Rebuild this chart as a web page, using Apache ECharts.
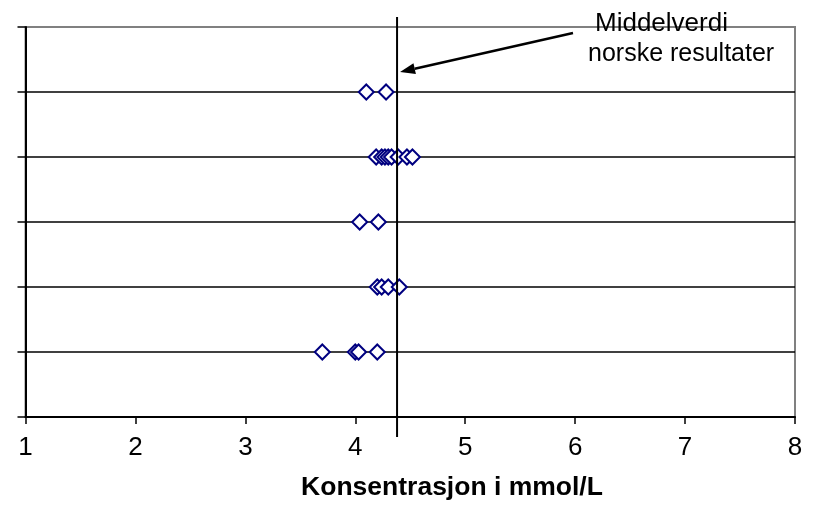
<!DOCTYPE html>
<html>
<head>
<meta charset="utf-8">
<script src="https://cdn.jsdelivr.net/npm/echarts@6/dist/echarts.min.js"></script>
<style>html,body{margin:0;padding:0;background:#fff}#c{width:813px;height:505px}</style>
</head>
<body>
<div id="c"></div>
<script>
// Data
const xTicks = [1, 2, 3, 4, 5, 6, 7, 8];
const row1 = [3.70, 4.00, 4.03, 4.20];
const row2 = [4.20, 4.24, 4.30, 4.40];
const row3 = [4.04, 4.21];
const row4 = [4.19, 4.24, 4.27, 4.30, 4.33, 4.39, 4.47, 4.52];
const row5 = [4.10, 4.28];
const meanValue = 4.38;
const xTitle = 'Konsentrasjon i mmol/L';
const annotLine1 = 'Middelverdi';
const annotLine2 = 'norske resultater';

const rows = [row1, row2, row3, row4, row5];
const points = [];
rows.forEach((r, i) => r.forEach(v => points.push([v, i + 1])));

const FONT = 'Liberation Sans, Arial, sans-serif';
const chart = echarts.init(document.getElementById('c'), null, {renderer: 'canvas'});

chart.setOption({
  animation: false,
  backgroundColor: '#fff',
  grid: [
    {left: 25.5, right: 18, top: 27, bottom: 88, show: true, borderColor: '#808080', borderWidth: 2, backgroundColor: 'transparent'},
    {left: 25.5, right: 18, top: 17, bottom: 68, show: false}
  ],
  xAxis: [
    {
      gridIndex: 0, type: 'value', min: xTicks[0], max: xTicks[xTicks.length - 1], interval: 1,
      axisLine: {show: true, lineStyle: {color: '#000', width: 2}},
      axisTick: {show: true, length: 7, lineStyle: {color: '#000', width: 1.5}},
      axisLabel: {color: '#000', fontSize: 26, fontFamily: FONT, margin: 18},
      splitLine: {show: false}
    },
    {gridIndex: 1, type: 'value', min: xTicks[0], max: xTicks[xTicks.length - 1], show: false}
  ],
  yAxis: [
    {
      gridIndex: 0, type: 'value', min: 0, max: 6, interval: 1,
      axisLine: {show: true, lineStyle: {color: '#000', width: 2}},
      axisTick: {show: true, inside: false, length: 8, lineStyle: {color: '#000', width: 1.5}},
      axisLabel: {show: false},
      splitLine: {show: true, showMinLine: false, showMaxLine: false, lineStyle: {color: '#000', width: 1.5}}
    },
    {gridIndex: 1, type: 'value', min: 0, max: 1, show: false}
  ],
  series: [
    {
      type: 'scatter', xAxisIndex: 0, yAxisIndex: 0,
      data: points,
      symbol: 'diamond', symbolSize: 15,
      itemStyle: {color: '#fff', borderColor: '#000080', borderWidth: 2, opacity: 1},
      z: 3
    },
    {
      type: 'line', xAxisIndex: 1, yAxisIndex: 1,
      data: [[meanValue, 0], [meanValue, 1]],
      symbol: 'none',
      lineStyle: {color: '#000', width: 2},
      z: 5
    }
  ]
});

// annotation arrow pointing at the mean line
const tipX = chart.convertToPixel({xAxisIndex: 1}, meanValue) + 3;
const tipY = 72;
const tailX = 573, tailY = 33;
const dx = tailX - tipX, dy = tailY - tipY;
const L = Math.sqrt(dx * dx + dy * dy);
const ux = dx / L, uy = dy / L;
const hl = 15, hw = 5.5;
const bx = tipX + ux * hl, by = tipY + uy * hl;
chart.setOption({
  graphic: [
    {type: 'line', z: 10, shape: {x1: tailX, y1: tailY, x2: bx, y2: by}, style: {stroke: '#000', lineWidth: 2.5}},
    {type: 'polygon', z: 10, shape: {points: [[tipX, tipY], [bx - uy * hw, by + ux * hw], [bx + uy * hw, by - ux * hw]]}, style: {fill: '#000'}},
    {type: 'text', z: 10, left: 595, top: 10.5, style: {text: annotLine1, font: '26px ' + FONT, fill: '#000'}},
    {type: 'text', z: 10, left: 588, top: 42, style: {text: annotLine2, font: '25px ' + FONT, fill: '#000'}},
    {type: 'text', z: 10, x: 452, y: 474, style: {text: xTitle, font: 'bold 26.5px ' + FONT, fill: '#000', textAlign: 'center', textVerticalAlign: 'top'}}
  ]
});
</script>
</body>
</html>
